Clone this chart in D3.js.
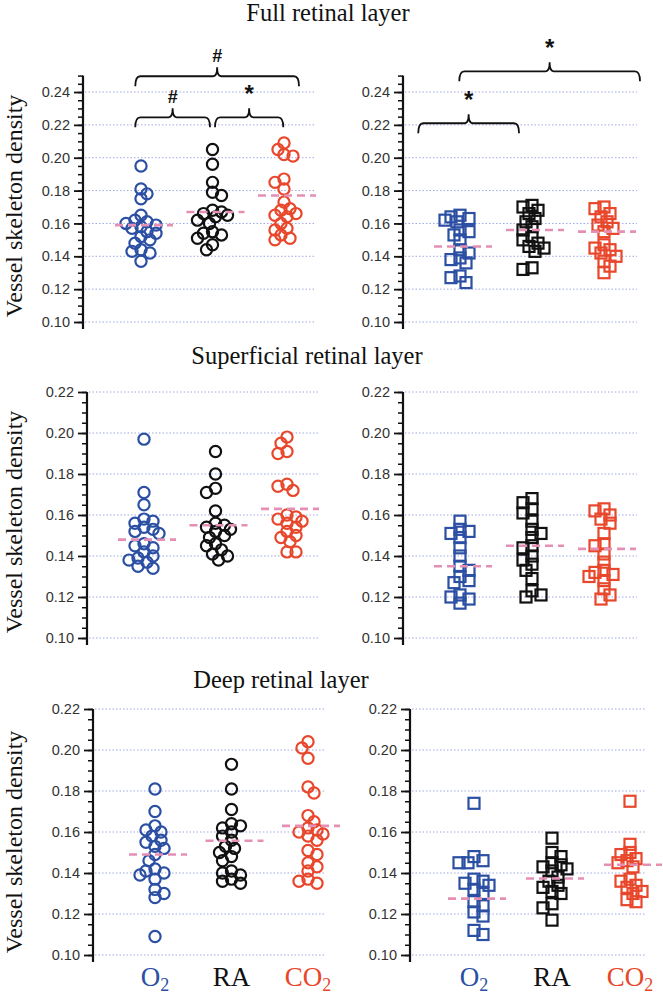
<!DOCTYPE html>
<html><head><meta charset="utf-8">
<script src="https://cdn.jsdelivr.net/npm/d3@7"></script>
<style>body{margin:0;background:#fff}</style>
</head><body>
<svg id="chart" width="663" height="999"></svg>
<script>
// ---------------- DATA ----------------
const categories = ["O2", "RA", "CO2"];
const layerTitles = ["Full retinal layer", "Superficial retinal layer", "Deep retinal layer"];
const yTitle = "Vessel skeleton density";
const yTickValues = [0.10, 0.12, 0.14, 0.16, 0.18, 0.20, 0.22, 0.24];

// Full retinal layer - circles
const circleFullO2  = [0.195,0.181,0.178,0.175,0.165,0.162,0.161,0.160,0.159,0.158,0.157,0.155,0.154,0.152,0.150,0.148,0.144,0.143,0.142,0.137];
const circleFullRA  = [0.205,0.196,0.185,0.179,0.177,0.168,0.167,0.166,0.165,0.164,0.162,0.160,0.155,0.154,0.153,0.151,0.147,0.144];
const circleFullCO2 = [0.209,0.205,0.202,0.201,0.187,0.185,0.181,0.173,0.169,0.168,0.166,0.165,0.164,0.160,0.157,0.156,0.153,0.151,0.150];
const circleFullMeans = [0.159, 0.167, 0.177];
// Full retinal layer - squares
const squareFullO2  = [0.165,0.164,0.163,0.162,0.161,0.156,0.155,0.153,0.150,0.144,0.142,0.139,0.138,0.136,0.128,0.127,0.124];
const squareFullRA  = [0.171,0.170,0.168,0.166,0.163,0.161,0.158,0.156,0.152,0.150,0.148,0.146,0.145,0.143,0.133,0.132];
const squareFullCO2 = [0.170,0.169,0.166,0.164,0.161,0.159,0.157,0.155,0.147,0.145,0.144,0.142,0.140,0.137,0.134,0.130];
const squareFullMeans = [0.146, 0.156, 0.155];

// Superficial retinal layer - circles
const circleSupO2  = [0.197,0.171,0.165,0.158,0.157,0.156,0.154,0.153,0.152,0.151,0.146,0.145,0.144,0.142,0.140,0.139,0.138,0.137,0.135,0.134];
const circleSupRA  = [0.191,0.180,0.173,0.171,0.162,0.156,0.155,0.154,0.153,0.152,0.150,0.149,0.146,0.145,0.143,0.141,0.140,0.138];
const circleSupCO2 = [0.198,0.195,0.191,0.190,0.175,0.174,0.172,0.160,0.159,0.158,0.157,0.156,0.154,0.152,0.150,0.149,0.147,0.142,0.142];
const circleSupMeans = [0.148, 0.155, 0.163];
// Superficial retinal layer - squares
const squareSupO2  = [0.157,0.153,0.152,0.151,0.149,0.144,0.140,0.135,0.133,0.130,0.128,0.127,0.121,0.120,0.119,0.117];
const squareSupRA  = [0.168,0.166,0.163,0.161,0.157,0.153,0.151,0.149,0.145,0.144,0.140,0.138,0.136,0.133,0.129,0.123,0.121,0.120];
const squareSupCO2 = [0.163,0.162,0.160,0.158,0.156,0.151,0.146,0.145,0.141,0.137,0.133,0.132,0.131,0.130,0.128,0.124,0.121,0.119];
const squareSupMeans = [0.135, 0.145, 0.1435];

// Deep retinal layer - circles
const circleDeepO2  = [0.181,0.170,0.163,0.161,0.160,0.158,0.156,0.155,0.153,0.152,0.149,0.146,0.142,0.141,0.140,0.139,0.137,0.132,0.130,0.128,0.109];
const circleDeepRA  = [0.193,0.181,0.171,0.164,0.163,0.162,0.160,0.158,0.156,0.153,0.152,0.150,0.148,0.146,0.141,0.140,0.139,0.137,0.136,0.135];
const circleDeepCO2 = [0.204,0.201,0.196,0.182,0.179,0.168,0.165,0.162,0.161,0.160,0.159,0.158,0.156,0.151,0.149,0.145,0.143,0.141,0.137,0.136,0.135];
const circleDeepMeans = [0.149, 0.1557, 0.163];
// Deep retinal layer - squares
const squareDeepO2  = [0.174,0.148,0.146,0.145,0.145,0.137,0.136,0.135,0.134,0.132,0.130,0.126,0.124,0.121,0.119,0.112,0.110];
const squareDeepRA  = [0.157,0.150,0.148,0.145,0.144,0.143,0.142,0.141,0.138,0.136,0.134,0.133,0.131,0.130,0.125,0.123,0.117];
const squareDeepCO2 = [0.175,0.154,0.150,0.149,0.147,0.146,0.145,0.143,0.137,0.136,0.134,0.133,0.131,0.130,0.127,0.126];
const squareDeepMeans = [0.1275, 0.1373, 0.144];

// Significance brackets (full retinal layer)
const bracketCol    = [0, 0, 0, 1, 1];
const bracketFrom   = [-0.08, -0.08, 1.035, -0.01, -0.58]; // category index units
const bracketTo     = [2.21, 0.965, 1.99, 2.5, 0.82];
const bracketLevel  = [0.2496, 0.2246, 0.2246, 0.2526, 0.221];
const bracketLabel  = ["#", "#", "*", "*", "*"];

// ---------------- LAYOUT / STYLE ----------------
const colors = {O2: "#2b4fa3", RA: "#111111", CO2: "#e8472b"};
const rows = [
  {yDomain: [0.10, 0.25], yRange: [322, 75.6], titleX: 328, titleY: 21, yTitleCy: 206},
  {yDomain: [0.10, 0.22], yRange: [638, 392], titleX: 307, titleY: 364, yTitleCy: 522},
  {yDomain: [0.10, 0.22], yRange: [955, 709], titleX: 281, titleY: 688, yTitleCy: 842}
];
const cols = [
  [{axisX: 83, gridEnd: 315, cat: [141, 284]}, {axisX: 403, gridEnd: 637, cat: [460, 604]}],
  [{axisX: 87, gridEnd: 318, cat: [144, 287]}, {axisX: 403, gridEnd: 637, cat: [460, 604]}],
  [{axisX: 93, gridEnd: 325, cat: [155, 308]}, {axisX: 410, gridEnd: 645, cat: [474, 630]}]
];
const panels = [
  {row: 0, col: 0, shape: "circle", series: [circleFullO2, circleFullRA, circleFullCO2], means: circleFullMeans},
  {row: 0, col: 1, shape: "square", series: [squareFullO2, squareFullRA, squareFullCO2], means: squareFullMeans},
  {row: 1, col: 0, shape: "circle", series: [circleSupO2, circleSupRA, circleSupCO2], means: circleSupMeans},
  {row: 1, col: 1, shape: "square", series: [squareSupO2, squareSupRA, squareSupCO2], means: squareSupMeans},
  {row: 2, col: 0, shape: "circle", series: [circleDeepO2, circleDeepRA, circleDeepCO2], means: circleDeepMeans},
  {row: 2, col: 1, shape: "square", series: [squareDeepO2, squareDeepRA, squareDeepCO2], means: squareDeepMeans}
];

const svg = d3.select("#chart");
svg.append("rect").attr("width", 663).attr("height", 999).attr("fill", "#fff");

// deterministic dodge (beeswarm-like jitter)
function dodge(values, y, minDist, step, maxOff) {
  const order = values.map((v, i) => i).sort((a, b) => values[b] - values[a]);
  const placed = [];
  const offs = new Array(values.length).fill(0);
  order.forEach((i, k) => {
    const py = y(values[i]);
    const cands = [0];
    for (let s = 1; s * step <= maxOff; s++) {
      if (k % 2) cands.push(-s * step, s * step); else cands.push(s * step, -s * step);
    }
    let best = 0, bestScore = -Infinity;
    for (const c of cands) {
      let md = Infinity;
      for (const p of placed) { const d = Math.hypot(p.x - c, p.y - py); if (d < md) md = d; }
      if (md >= minDist) { best = c; break; }
      if (md > bestScore) { bestScore = md; best = c; }
    }
    offs[i] = best;
    placed.push({x: best, y: py});
  });
  return offs;
}

// row titles + y titles
rows.forEach((r, ri) => {
  svg.append("text").attr("x", r.titleX).attr("y", r.titleY)
    .attr("text-anchor", "middle").attr("font-family", "'Liberation Serif', 'Times New Roman', serif")
    .attr("font-size", 24.5).attr("fill", "#111").text(layerTitles[ri]);
  svg.append("text").attr("transform", `translate(22,${r.yTitleCy}) rotate(-90)`)
    .attr("text-anchor", "middle").attr("font-family", "'Liberation Serif', 'Times New Roman', serif")
    .attr("font-size", 24).attr("fill", "#111").text(yTitle);
});

const xScales = {};
panels.forEach(p => {
  const r = rows[p.row];
  const c = cols[p.row][p.col];
  const y = d3.scaleLinear().domain(r.yDomain).range(r.yRange);
  const x = d3.scalePoint().domain(categories).range(c.cat);
  const xi = d3.scaleLinear().domain([0, 2]).range(c.cat);
  xScales[p.row + "_" + p.col] = {x, xi, y};
  const g = svg.append("g");

  const majors = yTickValues.filter(v => v <= r.yDomain[1] + 1e-9);
  const minors = d3.range(0, 40).map(i => +(0.10 + i * 0.005).toFixed(3)).filter(v => v <= r.yDomain[1] + 1e-9);

  // grid
  g.selectAll(".grid").data(majors).join("line")
    .attr("x1", c.axisX + 2).attr("x2", c.gridEnd)
    .attr("y1", d => y(d)).attr("y2", d => y(d))
    .attr("stroke", "#9fa8e4").attr("stroke-width", 1).attr("stroke-dasharray", "1.5,2");

  // minor ticks
  const minorAxis = d3.axisLeft(y).tickValues(minors).tickSize(5).tickFormat("");
  const gm = g.append("g").attr("transform", `translate(${c.axisX},0)`).call(minorAxis);
  gm.select(".domain").remove();
  gm.selectAll("line").attr("stroke", "#111").attr("stroke-width", 1.5);
  // major ticks
  const majorAxis = d3.axisLeft(y).tickValues(majors).tickSize(9).tickPadding(4).tickFormat(d3.format(".2f"));
  const gM = g.append("g").attr("transform", `translate(${c.axisX},0)`).call(majorAxis);
  gM.select(".domain").remove();
  gM.selectAll("line").attr("stroke", "#111").attr("stroke-width", 1.8);
  gM.selectAll("text").attr("font-family", "'Liberation Sans', Arial, sans-serif")
    .attr("font-size", 14.5).attr("fill", "#333");
  // axis line
  g.append("line").attr("x1", c.axisX).attr("x2", c.axisX)
    .attr("y1", y(r.yDomain[1])).attr("y2", y(r.yDomain[0]) + 7)
    .attr("stroke", "#111").attr("stroke-width", 2.2);

  // points
  p.series.forEach((vals, si) => {
    const cat = categories[si];
    const offs = dodge(vals, y, 7.5, 3, 17);
    const cx = x(cat);
    const col = colors[cat];
    if (p.shape === "circle") {
      g.selectAll(null).data(vals).join("circle")
        .attr("cx", (d, i) => cx + offs[i]).attr("cy", d => y(d)).attr("r", 5.6)
        .attr("fill", "none").attr("stroke", col).attr("stroke-width", 2.2);
    } else {
      const s = 11;
      g.selectAll(null).data(vals).join("rect")
        .attr("x", (d, i) => cx + offs[i] - s / 2).attr("y", d => y(d) - s / 2)
        .attr("width", s).attr("height", s)
        .attr("fill", "none").attr("stroke", col).attr("stroke-width", 2.2);
    }
    // mean line
    g.append("line").attr("x1", cx + 3 - 29).attr("x2", cx + 3 + 29)
      .attr("y1", y(p.means[si])).attr("y2", y(p.means[si]))
      .attr("stroke", "#e58fb5").attr("stroke-width", 2.6).attr("stroke-dasharray", "8,5");
  });

  // category labels on the bottom row
  if (p.row === 2) {
    categories.forEach(cat => {
      const t = g.append("text").attr("x", x(cat)).attr("y", 986)
        .attr("text-anchor", "middle").attr("font-family", "'Liberation Serif', 'Times New Roman', serif")
        .attr("font-size", 27).attr("fill", colors[cat]);
      if (cat.endsWith("2")) {
        t.append("tspan").text(cat.slice(0, -1));
        t.append("tspan").attr("font-size", 18).attr("dy", 5).text("2");
      } else t.text(cat);
    });
  }
});

// brackets
bracketLabel.forEach((lab, i) => {
  const s = xScales["0_" + bracketCol[i]];
  const x1 = s.xi(bracketFrom[i]), x2 = s.xi(bracketTo[i]);
  const xm = (x1 + x2) / 2;
  const yl = s.y(bracketLevel[i]);
  const path = `M${x1},${yl + 10} Q${x1},${yl} ${x1 + 5},${yl} L${xm - 4},${yl} Q${xm},${yl} ${xm},${yl - 9} Q${xm},${yl} ${xm + 4},${yl} L${x2 - 5},${yl} Q${x2},${yl} ${x2},${yl + 10}`;
  svg.append("path").attr("d", path).attr("fill", "none").attr("stroke", "#111").attr("stroke-width", 1.8);
  svg.append("text").attr("x", xm).attr("y", lab === "#" ? yl - 14 : yl - 15)
    .attr("text-anchor", "middle").attr("font-family", "'Liberation Sans', Arial, sans-serif")
    .attr("font-weight", "bold").attr("font-size", lab === "#" ? 18 : 24).attr("fill", "#111").text(lab);
});
</script>
</body></html>
